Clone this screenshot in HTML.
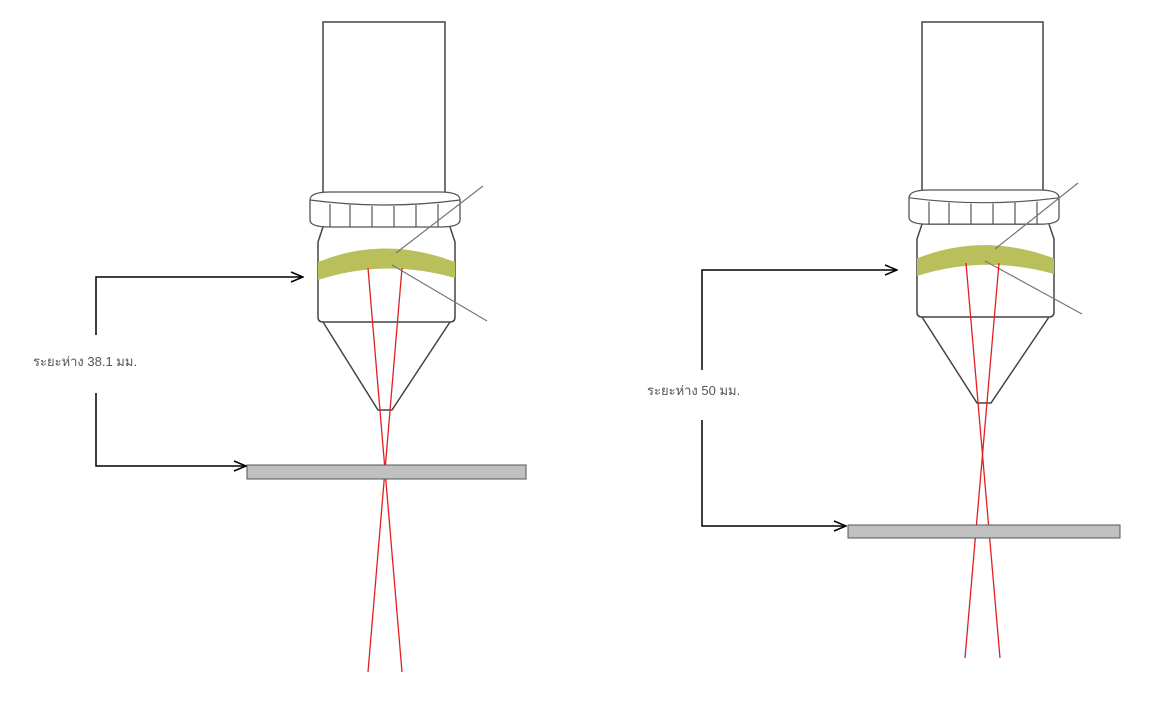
<!DOCTYPE html>
<html><head><meta charset="utf-8"><style>
body{margin:0;background:#fff}
svg{display:block}
text{font-family:"Liberation Sans",sans-serif;font-size:13px;fill:#555}
</style></head><body>
<svg width="1161" height="702" viewBox="0 0 1161 702" xmlns="http://www.w3.org/2000/svg">
<defs>
<marker id="ar" markerWidth="14" markerHeight="12" refX="13" refY="6" orient="auto" markerUnits="userSpaceOnUse">
<path d="M1,1 L13,6 L1,11" fill="none" stroke="#000" stroke-width="1.5"/>
</marker>
<g id="head">
 <path d="M310,200 Q310,192 330,192 L440,192 Q460,192 460,200 L460,220 Q460,227 440,227 L330,227 Q310,227 310,220 Z" fill="#fff" stroke="#555" stroke-width="1.3"/>
 <path d="M310,200 Q385,210 460,200" fill="none" stroke="#555" stroke-width="1.2"/>
 <g stroke="#555" stroke-width="1.2">
 <line x1="350" y1="205" x2="350" y2="227"/><line x1="372" y1="206" x2="372" y2="227"/><line x1="394" y1="206" x2="394" y2="227"/><line x1="416" y1="205" x2="416" y2="227"/><line x1="438" y1="204" x2="438" y2="227"/><line x1="330" y1="204" x2="330" y2="227"/>
 </g>
 <path d="M323,227 L318,242 L318,317 Q318,322 323,322 L450,322 Q455,322 455,317 L455,242 L450,227" fill="none" stroke="#444" stroke-width="1.5"/>
 <path d="M323,322 L378,410 L392,410 L450,322" fill="none" stroke="#444" stroke-width="1.5"/>
 <path d="M318,262 Q385,235 455,262 L455,278 Q385,258 318,280 Z" fill="#b9bf5a"/>
</g>
</defs>

<rect x="323" y="22" width="122" height="175" fill="#fff" stroke="#444" stroke-width="1.5"/>
<use href="#head"/>
<line x1="483" y1="186" x2="396" y2="253" stroke="#777" stroke-width="1.2"/>
<line x1="392" y1="265" x2="487" y2="321" stroke="#777" stroke-width="1.2"/>
<line x1="368" y1="268" x2="402" y2="672" stroke="#e02020" stroke-width="1.3"/>
<line x1="402" y1="268" x2="368" y2="672" stroke="#e02020" stroke-width="1.3"/>
<rect x="247" y="465" width="279" height="14" fill="#c0c0c0" stroke="#555" stroke-width="1"/>
<path d="M96,335 L96,277 L303,277" fill="none" stroke="#000" stroke-width="1.5" marker-end="url(#ar)"/>
<path d="M96,393 L96,466 L246,466" fill="none" stroke="#000" stroke-width="1.5" marker-end="url(#ar)"/>
<text x="33" y="366">ระยะห่าง 38.1 มม.</text>

<rect x="922" y="22" width="121" height="172" fill="#fff" stroke="#444" stroke-width="1.5"/>
<g transform="translate(599,2.4) scale(1,0.977)"><use href="#head"/></g>
<line x1="1078" y1="183" x2="995" y2="249" stroke="#777" stroke-width="1.2"/>
<line x1="985" y1="261" x2="1082" y2="314" stroke="#777" stroke-width="1.2"/>
<line x1="966" y1="263" x2="1000" y2="658" stroke="#e02020" stroke-width="1.3"/>
<line x1="999" y1="263" x2="965" y2="658" stroke="#e02020" stroke-width="1.3"/>
<rect x="848" y="525" width="272" height="13" fill="#c0c0c0" stroke="#555" stroke-width="1"/>
<path d="M702,370 L702,270 L897,270" fill="none" stroke="#000" stroke-width="1.5" marker-end="url(#ar)"/>
<path d="M702,420 L702,526 L846,526" fill="none" stroke="#000" stroke-width="1.5" marker-end="url(#ar)"/>
<text x="647" y="395">ระยะห่าง 50 มม.</text>
</svg>
</body></html>
